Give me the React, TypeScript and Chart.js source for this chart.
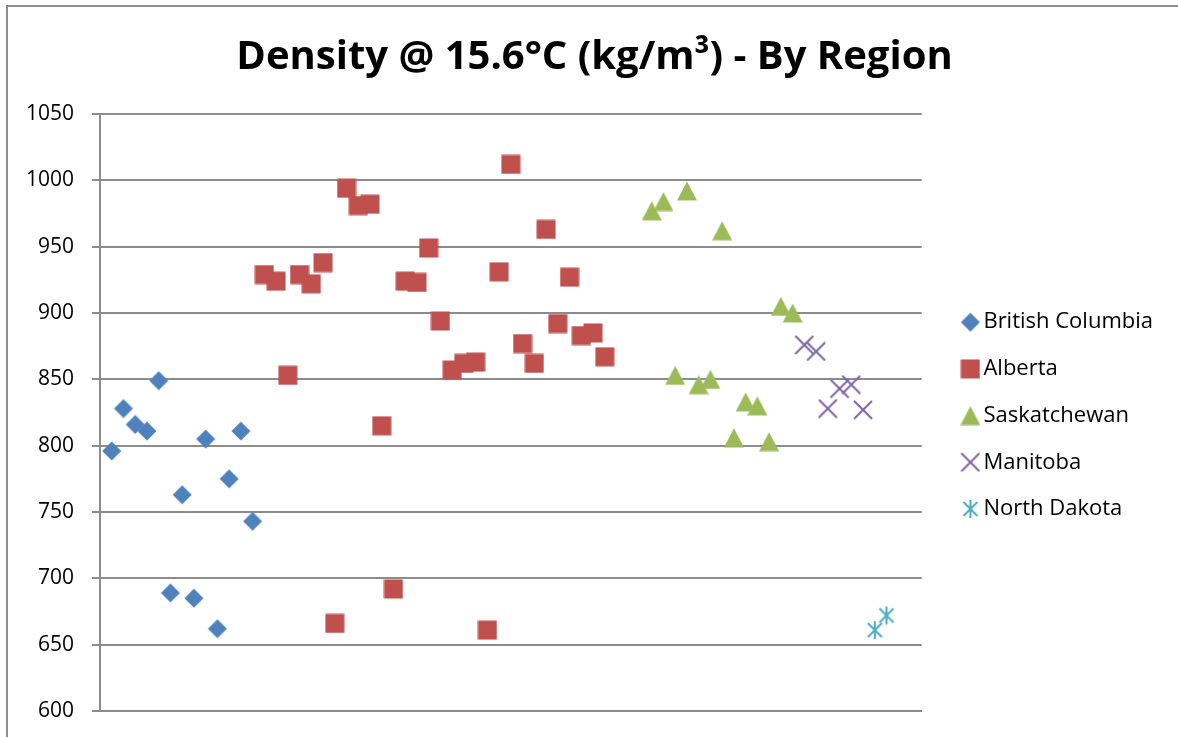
import React, { useEffect, useRef } from "react";
import { Chart, registerables } from "chart.js";

Chart.register(...registerables);

const titleText = "Density @ 15.6°C (kg/m³) - By Region";
const regionNames = ["British Columbia", "Alberta", "Saskatchewan", "Manitoba", "North Dakota"];
const yTickMin = 600;
const yTickMax = 1050;
const yTickStep = 50;
const xMin = 0;
const xMax = 70;

const bcSamples = [1, 2, 3, 4, 5, 6, 7, 8, 9, 10, 11, 12, 13];
const bcDensity = [796, 828, 816, 811, 849, 689, 763, 685, 805, 662, 775, 811, 743];

const abSamples = [14, 15, 16, 17, 18, 19, 20, 21, 22, 23, 24, 25, 26, 27, 28, 29, 30, 31, 32, 33, 34, 35, 36, 37, 38, 39, 40, 41, 42, 43];
const abDensity = [929, 924, 853, 929, 922, 938, 666, 994, 981, 982, 815, 692, 924, 923, 949, 894, 857, 862, 863, 661, 931, 1012, 877, 862, 963, 892, 927, 883, 885, 867];

const skSamples = [47, 48, 49, 50, 51, 52, 53, 54, 55, 56, 57, 58, 59];
const skDensity = [977, 984, 853, 992, 846, 850, 962, 806, 833, 830, 803, 905, 900];

const mbSamples = [60, 61, 62, 63, 64, 65];
const mbDensity = [876, 871, 828, 843, 846, 827];

const ndSamples = [66, 67];
const ndDensity = [661, 672];

const colors = ["#4F81BD", "#C0504D", "#9BBB59", "#8064A2", "#4BACC6"];
const gridColor = "#8c8c8c";
const FONT = "'Open Sans', sans-serif";

function makeCanvas(w: number, h: number, draw: (ctx: CanvasRenderingContext2D) => void) {
  const c = document.createElement("canvas");
  c.width = w;
  c.height = h;
  const ctx = c.getContext("2d")!;
  draw(ctx);
  return c;
}

function makeMarkers() {
  const diamond = makeCanvas(20, 20, (ctx) => {
    ctx.fillStyle = colors[0];
    ctx.beginPath();
    ctx.moveTo(10, 0.5);
    ctx.lineTo(19.5, 10);
    ctx.lineTo(10, 19.5);
    ctx.lineTo(0.5, 10);
    ctx.closePath();
    ctx.fill();
  });
  const square = makeCanvas(20, 20, (ctx) => {
    ctx.fillStyle = colors[1];
    ctx.fillRect(0.5, 0.5, 19, 19);
  });
  const triangle = makeCanvas(20, 20, (ctx) => {
    ctx.fillStyle = colors[2];
    ctx.beginPath();
    ctx.moveTo(10, 0.5);
    ctx.lineTo(20, 19.5);
    ctx.lineTo(0, 19.5);
    ctx.closePath();
    ctx.fill();
  });
  const cross = makeCanvas(20, 20, (ctx) => {
    ctx.strokeStyle = colors[3];
    ctx.lineWidth = 2;
    ctx.beginPath();
    ctx.moveTo(1, 1);
    ctx.lineTo(19, 19);
    ctx.moveTo(19, 1);
    ctx.lineTo(1, 19);
    ctx.stroke();
  });
  const asterisk = makeCanvas(20, 20, (ctx) => {
    ctx.strokeStyle = colors[4];
    ctx.lineWidth = 2;
    ctx.beginPath();
    ctx.moveTo(10, 1);
    ctx.lineTo(10, 19);
    ctx.moveTo(3, 3);
    ctx.lineTo(17, 17);
    ctx.moveTo(17, 3);
    ctx.lineTo(3, 17);
    ctx.stroke();
  });
  return [diamond, square, triangle, cross, asterisk];
}

function toPoints(xs: number[], ys: number[]) {
  return xs.map((x, i) => ({ x, y: ys[i] }));
}

export default function App() {
  const canvasRef = useRef<HTMLCanvasElement | null>(null);

  useEffect(() => {
    if (!canvasRef.current) return;
    const markers = makeMarkers();
    const seriesX = [bcSamples, abSamples, skSamples, mbSamples, ndSamples];
    const seriesY = [bcDensity, abDensity, skDensity, mbDensity, ndDensity];
    const datasets = regionNames.map((name, i) => ({
      label: name,
      data: toPoints(seriesX[i], seriesY[i]),
      pointStyle: markers[i] as any,
      pointRadius: 9,
      backgroundColor: colors[i],
      borderColor: colors[i],
      showLine: false,
    }));

    const chart = new Chart(canvasRef.current, {
      type: "scatter",
      data: { datasets },
      options: {
        animation: false,
        responsive: false,
        layout: { padding: { left: 18, right: 18, top: 0, bottom: 56 } },
        plugins: {
          tooltip: { enabled: false },
          title: {
            display: true,
            text: titleText,
            color: "#000",
            font: { family: FONT, size: 40, weight: "bold" },
            padding: { top: 27, bottom: 32 },
          },
          legend: {
            display: true,
            position: "right",
            fullSize: false,
            align: "center",
            maxWidth: 400,
            title: { display: true, text: "", font: { size: 1 }, padding: { top: 2.5, bottom: 2.5 } },
            labels: {
              usePointStyle: true,
              boxWidth: 4,
              boxHeight: 12,
              padding: 24.7,
              color: "#000",
              font: { family: FONT, size: 22 },
            },
          },
        },
        scales: {
          x: {
            type: "linear",
            min: xMin,
            max: xMax,
            ticks: { display: false },
            grid: { display: false, drawTicks: false },
            border: { display: true, color: gridColor, width: 2 },
          },
          y: {
            type: "linear",
            position: "left",
            min: yTickMin,
            max: yTickMax,
            ticks: {
              stepSize: yTickStep,
              color: "#000",
              padding: 18,
              font: { family: FONT, size: 21 },
              callback: (v: any) => String(v),
            },
            grid: { color: gridColor, lineWidth: 2, tickLength: 8, tickColor: gridColor },
            border: { display: true, color: gridColor, width: 2 },
            afterFit: (s: any) => {
              s.width = 74;
            },
          },
          gap: {
            type: "linear",
            axis: "y",
            position: "right",
            display: true,
            ticks: { display: false },
            grid: { display: false, drawTicks: false },
            border: { display: false },
            afterFit: (s: any) => {
              s.width = 22;
            },
          },
        },
      } as any,
    });
    return () => chart.destroy();
  }, []);

  return (
    <div
      style={{
        position: "fixed",
        left: 0,
        top: 0,
        width: 1178,
        height: 737,
        overflow: "hidden",
        background: "#fff",
      }}
    >
      <div
        style={{
          position: "absolute",
          left: 6,
          top: 5,
          width: 1173,
          height: 760,
          border: "2px solid #8c8c8c",
          background: "#fff",
        }}
      >
        <canvas ref={canvasRef} width={1173} height={760} style={{ display: "block", width: 1173, height: 760 }} />
      </div>
    </div>
  );
}
